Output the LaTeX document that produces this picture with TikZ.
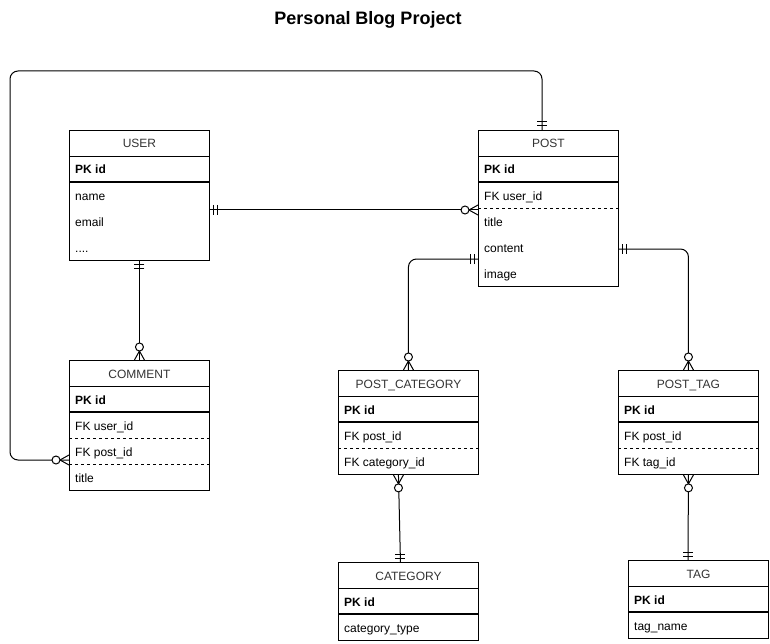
\documentclass[tikz,border=0pt]{standalone}
\usepackage{fontspec}
\setmainfont{Liberation Sans}
\usetikzlibrary{calc}
\definecolor{hdrcol}{RGB}{51,51,51}
\tikzset{
  ebox/.style={draw, line width=0.9pt, minimum width=140, inner sep=0, anchor=north west},
  txtbase/.style={font=\fontsize{12}{14}\selectfont, inner sep=0, text height=10.5pt, text depth=1.5pt},
  hdrtxt/.style={txtbase, text=hdrcol},
  rowtxt/.style={txtbase, anchor=west},
  pktxt/.style={txtbase, font=\bfseries\fontsize{12}{14}\selectfont, anchor=west},
  thinln/.style={line width=0.9pt},
  pkln/.style={line width=1.3pt},
  dashln/.style={line width=0.9pt, dash pattern=on 3pt off 3pt},
  conn/.style={line width=1pt, rounded corners=8},
  zmany/.pic={\draw[line width=1pt] (0,-5) -- (9,0) -- (0,5);
              \draw[line width=1pt, fill=white] (13,0) circle[radius=4];},
  mone/.pic={\draw[line width=1pt] (4,-5) -- (4,5) (8,-5) -- (8,5);}
}
\newcommand\entbox[5]{%
  \node[ebox, minimum height=26*#4] (#1) at (#2,#3) {};
  \node[hdrtxt] (#1-t) at ($(#1.north)+(0,13.5)$) {#5};
  \draw[thinln] ($(#1.north west)+(0,26)$) -- ($(#1.north east)+(0,26)$);
  \node[pktxt] (#1-pk) at ($(#1.north west)+(6,39.5)$) {PK id};
  \draw[pkln] ($(#1.north west)+(0,52)$) -- ($(#1.north east)+(0,52)$);
}
\newcommand\entrow[3]{%
  \node[rowtxt] (#1-r#2) at ($(#1.north west)+(6,{26*#2+14})$) {#3};}
\newcommand\entdash[2]{%
  \draw[dashln] ($(#1.north west)+(0,{26*#2+26})$) -- ($(#1.north east)+(0,{26*#2+26})$);}
\begin{document}
\begin{tikzpicture}[x=1pt,y=-1pt]
\useasboundingbox[fill=white] (0,0) rectangle (770,644);
\node[font=\bfseries\fontsize{18}{20}\selectfont, inner sep=0, text height=15pt, text depth=3pt] (title) at (368,18.5) {Personal Blog Project};

% entities
\entbox{user}{69}{130}{5}{USER}
\entrow{user}{2}{name}
\entrow{user}{3}{email}
\entrow{user}{4}{....}

\entbox{post}{478}{130}{6}{POST}
\entrow{post}{2}{FK user\_id}
\entdash{post}{2}
\entrow{post}{3}{title}
\entrow{post}{4}{content}
\entrow{post}{5}{image}

\entbox{comment}{69}{360}{5}{COMMENT}
\entrow{comment}{2}{FK user\_id}
\entdash{comment}{2}
\entrow{comment}{3}{FK post\_id}
\entdash{comment}{3}
\entrow{comment}{4}{title}

\entbox{pc}{338}{370}{4}{POST\_CATEGORY}
\entrow{pc}{2}{FK post\_id}
\entdash{pc}{2}
\entrow{pc}{3}{FK category\_id}

\entbox{ptag}{618}{370}{4}{POST\_TAG}
\entrow{ptag}{2}{FK post\_id}
\entdash{ptag}{2}
\entrow{ptag}{3}{FK tag\_id}

\entbox{cat}{338}{562}{3}{CATEGORY}
\entrow{cat}{2}{category\_type}

\entbox{tag}{628}{560}{3}{TAG}
\entrow{tag}{2}{tag\_name}

% connector end points
\coordinate (ua) at ($(user.north east)+(0,80)$);
\coordinate (pa) at ($(post.north west)+(0,80)$);
\coordinate (ptop) at ($(post.north west)+(64,0)$);
\coordinate (cl) at ($(comment.north west)+(0,100)$);
\coordinate (pl) at ($(post.north west)+(0,129)$);
\coordinate (pr) at ($(post.north east)+(0,119)$);
\coordinate (pcb) at ($(pc.south)+(-10,0)$);
\coordinate (catt) at ($(cat.north)+(-8,0)$);
\coordinate (tagt) at ($(tag.north west)+(60,0)$);

% connectors
\draw[conn] (ua) -- (pa);
\draw[conn] (user.south) -- (comment.north);
\draw[conn] (ptop) |- (10,71) |- (cl);
\draw[conn] (pl) -| (pc.north);
\draw[conn] (pr) -| (ptag.north);
\draw[conn] (pcb) -- (catt);
\draw[conn] (ptag.south) -- (tagt);

% markers
\pic at (ua) {mone};
\pic[rotate=180] at (pa) {zmany};
\pic[rotate=-90] at (user.south) {mone};
\pic[rotate=90] at (comment.north) {zmany};
\pic[rotate=90] at (ptop) {mone};
\pic[rotate=180] at (cl) {zmany};
\pic[rotate=180] at (pl) {mone};
\pic[rotate=90] at (pc.north) {zmany};
\pic at (pr) {mone};
\pic[rotate=90] at (ptag.north) {zmany};
\pic[rotate=-90] at (pcb) {zmany};
\pic[rotate=90] at (catt) {mone};
\pic[rotate=-90] at (ptag.south) {zmany};
\pic[rotate=90] at (tagt) {mone};
\end{tikzpicture}
\end{document}
